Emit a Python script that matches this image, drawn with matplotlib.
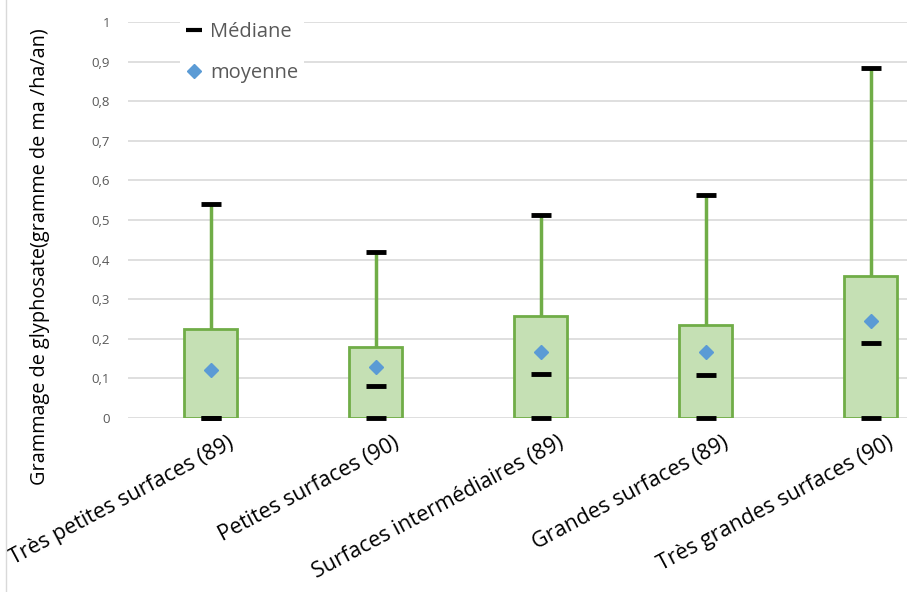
import matplotlib.pyplot as plt
from matplotlib.lines import Line2D
from matplotlib.transforms import ScaledTranslation
import numpy as np

# Data
categories = ["Très petites surfaces (89)", "Petites surfaces (90)",
              "Surfaces intermédiaires (89)", "Grandes surfaces (89)",
              "Très grandes surfaces (90)"]
mins = [0, 0, 0, 0, 0]
q1 = [0, 0, 0, 0, 0]
medians = [0, 0.081, 0.111, 0.109, 0.189]
q3 = [0.226, 0.179, 0.258, 0.235, 0.359]
maxs = [0.54, 0.42, 0.513, 0.563, 0.884]
means = [0.121, 0.129, 0.167, 0.167, 0.245]
yticks = [0, 0.1, 0.2, 0.3, 0.4, 0.5, 0.6, 0.7, 0.8, 0.9, 1]
ytick_labels = ["0", "0,1", "0,2", "0,3", "0,4", "0,5", "0,6", "0,7", "0,8", "0,9", "1"]

plt.rcParams['font.family'] = ['Open Sans', 'DejaVu Sans']

green = '#70ad47'
fill = '#c5e0b4'
blue = '#5b9bd5'
grey = '#595959'

fig = plt.figure(figsize=(9.07, 5.92), dpi=100)
ax = fig.add_axes([128/907, 1 - 418/592, 1 - 128/907, 396/592])

x = np.arange(len(categories))
heights = [b - a for a, b in zip(q1, q3)]

# whiskers (drawn first, box on top)
ax.vlines(x, q3, maxs, color=green, linewidth=2.5, zorder=2)
ax.bar(x, heights, bottom=q1, width=0.32, color=fill, edgecolor=green,
       linewidth=2, zorder=3)

dash = dict(marker='_', markersize=15, markeredgewidth=3.5, color='black',
            linestyle='none', zorder=5, clip_on=False)
ax.plot(x, maxs, **dash)
ax.plot(x, mins, **dash)
ax.plot(x, medians, **dash)
ax.plot(x, means, marker='D', markersize=7, color=blue, linestyle='none',
        zorder=6)

ax.set_ylim(0, 1)
ax.set_xlim(-0.5, (907 - 128) / 165 - 0.5)
ax.set_yticks(yticks)
ax.set_yticklabels(ytick_labels, color=grey, fontsize=9.5)
ax.set_xticks(x)
ax.set_xticklabels(categories, rotation=28, ha='right', va='center',
                   rotation_mode='anchor', fontsize=15.5)
ax.tick_params(length=0, axis='both')
ax.tick_params(axis='y', pad=13)
ax.tick_params(axis='x', pad=17)
shift = ScaledTranslation(22/100, 0, fig.dpi_scale_trans)
for lbl in ax.get_xticklabels():
    lbl.set_transform(lbl.get_transform() + shift)
ax.yaxis.grid(True, color='#d9d9d9', linewidth=1.2, zorder=0)
ax.set_axisbelow(True)
for s in ax.spines.values():
    s.set_visible(False)

fig.text(40/907, 1 - 257/592, "Grammage de glyphosate(gramme de ma /ha/an)",
         rotation=90, ha='center', va='center', fontsize=14.3)

handles = [Line2D([], [], marker='_', markersize=12, markeredgewidth=3,
                  color='black', linestyle='none'),
           Line2D([], [], marker='D', markersize=7, color=blue, linestyle='none')]
leg = fig.legend(handles, ["Médiane", "moyenne"], loc='upper left',
                 bbox_to_anchor=(170/907, 1 - 6/592), fontsize=14.5,
                 labelspacing=1.05, handlelength=0.8, handletextpad=0.4,
                 frameon=True, facecolor='white', edgecolor='none',
                 framealpha=1, borderpad=0.3)
for t in leg.get_texts():
    t.set_color(grey)

# chart area border on the left
fig.add_artist(Line2D([6/907, 6/907], [0, 1], color='#d9d9d9', linewidth=1,
                      transform=fig.transFigure))

fig.savefig('out.png', dpi=100)
